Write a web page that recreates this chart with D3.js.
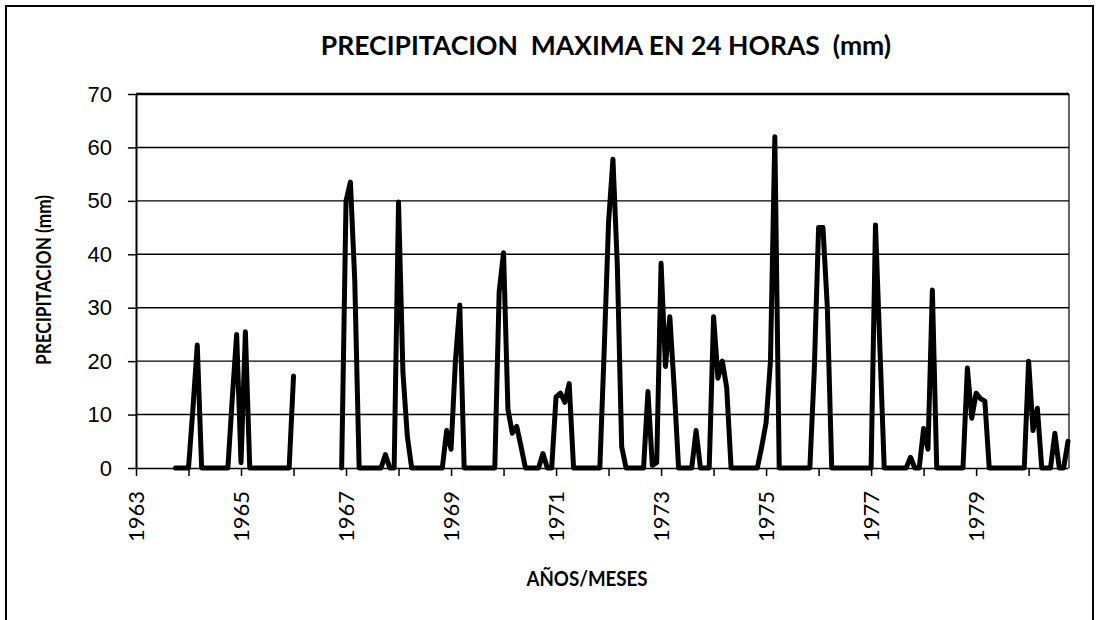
<!DOCTYPE html>
<html>
<head>
<meta charset="utf-8">
<script src="https://cdn.jsdelivr.net/npm/d3@7/dist/d3.min.js"></script>
<style>
body { margin: 0; background: #fff; }
svg { display: block; font-family: Lato, "Open Sans", sans-serif; }
.title { white-space: pre; }
</style>
</head>
<body>
<svg width="1096" height="620"></svg>
<script>
// monthly max rain in 24 h (mm), Jan..Dec of each year; null = no record
var firstYear = 1963;
var p1963 = [null, null, null, null, null, null, null, null, null, 0, 0, 0];
var p1964 = [0, 11, 23, 0, 0, 0, 0, 0, 0, 0, 13, 25];
var p1965 = [1, 25.5, 0, 0, 0, 0, 0, 0, 0, 0, 0, 0];
var p1966 = [17.2, null, null, null, null, null, null, null, null, null, null, 0];
var p1967 = [50, 53.5, 35, 0, 0, 0, 0, 0, 0, 2.5, 0, 0];
var p1968 = [49.8, 18, 6, 0, 0, 0, 0, 0, 0, 0, 0, 7];
var p1969 = [3.5, 20, 30.5, 0, 0, 0, 0, 0, 0, 0, 0, 33];
var p1970 = [40.3, 11, 6.5, 7.8, 4, 0, 0, 0, 0, 2.7, 0, 0];
var p1971 = [13.3, 14, 12.3, 15.8, 0, 0, 0, 0, 0, 0, 0, 22];
var p1972 = [46, 57.8, 38, 4, 0, 0, 0, 0, 0, 14.3, 0.5, 1];
var p1973 = [38.3, 19, 28.3, 15, 0, 0, 0, 0, 7, 0, 0, 0];
var p1974 = [28.3, 16.8, 20, 15, 0, 0, 0, 0, 0, 0, 0, 4];
var p1975 = [8.5, 20, 62, 0, 0, 0, 0, 0, 0, 0, 0, 18];
var p1976 = [45, 45, 30, 0, 0, 0, 0, 0, 0, 0, 0, 0];
var p1977 = [0, 45.5, 22.7, 0, 0, 0, 0, 0, 0, 2, 0, 0];
var p1978 = [7.4, 3.5, 33.3, 0, 0, 0, 0, 0, 0, 0, 18.7, 9.3];
var p1979 = [14, 13, 12.5, 0, 0, 0, 0, 0, 0, 0, 0, 0];
var p1980 = [20, 7, 11.2, 0, 0, 0, 6.5, 0, 0, 5];

var yTicks = [0, 10, 20, 30, 40, 50, 60, 70];

var series = [].concat(p1963, p1964, p1965, p1966, p1967, p1968, p1969, p1970, p1971,
  p1972, p1973, p1974, p1975, p1976, p1977, p1978, p1979, p1980);

var svg = d3.select("svg");
var plotLeft = 136, plotRight = 1069, plotTop = 94, plotBottom = 468;

var x = d3.scaleLinear().domain([0, series.length - 1]).range([plotLeft, 1068]);
var y = d3.scaleLinear().domain([0, 70]).range([plotBottom, plotTop]);

// outer frame
svg.append("rect")
  .attr("x", 6).attr("y", 6).attr("width", 1087).attr("height", 700)
  .attr("fill", "none").attr("stroke", "#000").attr("stroke-width", 2);

// horizontal grid
svg.append("g").selectAll("line")
  .data(yTicks.filter(function(d) { return d > 0; }))
  .enter().append("line")
    .attr("x1", plotLeft).attr("x2", plotRight)
    .attr("y1", function(d) { return y(d); })
    .attr("y2", function(d) { return y(d); })
    .attr("stroke", "#000")
    .attr("stroke-width", function(d) { return d == 70 ? 2.5 : 1.4; });

svg.append("line")
  .attr("x1", plotRight).attr("x2", plotRight).attr("y1", plotTop).attr("y2", plotBottom)
  .attr("stroke", "#000").attr("stroke-width", 1.2);

// y axis
var yAxis = svg.append("g")
  .attr("transform", "translate(" + plotLeft + ",0)")
  .call(d3.axisLeft(y).tickValues(yTicks).tickSize(8).tickPadding(16).tickSizeOuter(0));
yAxis.select(".domain").attr("stroke-width", 2);
yAxis.selectAll(".tick line").attr("stroke-width", 1.5);
yAxis.selectAll("text").attr("font-size", 22).attr("fill", "#000");

// x axis, a tick each January, a label every second year
var xAxis = svg.append("g")
  .attr("transform", "translate(0," + plotBottom + ")")
  .call(d3.axisBottom(x).tickValues(d3.range(0, series.length, 12)).tickSize(8)
    .tickFormat("").tickSizeOuter(0));
xAxis.select(".domain").attr("stroke-width", 1.5);
xAxis.selectAll(".tick line").attr("stroke-width", 1.5);

svg.append("g").selectAll("text")
  .data(d3.range(0, series.length, 24))
  .enter().append("text")
    .attr("transform", function(d) { return "translate(" + x(d) + ",491) rotate(-90)"; })
    .attr("text-anchor", "end")
    .attr("dy", "0.36em")
    .attr("font-size", 22)
    .text(function(d) { return firstYear + d / 12; });

// data line
var line = d3.line()
  .defined(function(d) { return d != null; })
  .x(function(d, i) { return x(i); })
  .y(function(d) { return y(d); });

svg.append("path")
  .datum(series)
  .attr("d", line)
  .attr("fill", "none")
  .attr("stroke", "#000")
  .attr("stroke-width", 5)
  .attr("stroke-linejoin", "round")
  .attr("stroke-linecap", "round");

// titles
svg.append("text")
  .attr("class", "title")
  .attr("x", 606).attr("y", 55)
  .attr("text-anchor", "middle")
  .attr("font-size", 26.5).attr("font-weight", "bold")
  .text("PRECIPITACION  MAXIMA EN 24 HORAS  (mm)");

svg.append("text")
  .attr("transform", "translate(51,280) rotate(-90)")
  .attr("text-anchor", "middle")
  .attr("font-size", 20).attr("font-weight", "bold")
  .attr("textLength", 170).attr("lengthAdjust", "spacingAndGlyphs")
  .text("PRECIPITACION (mm)");

svg.append("text")
  .attr("x", 587).attr("y", 586)
  .attr("text-anchor", "middle")
  .attr("font-size", 21).attr("font-weight", "bold")
  .attr("textLength", 121).attr("lengthAdjust", "spacingAndGlyphs")
  .text("AÑOS/MESES");
</script>
</body>
</html>
